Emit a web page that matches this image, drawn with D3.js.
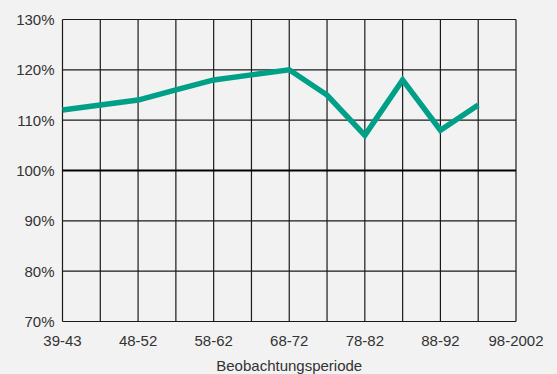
<!DOCTYPE html>
<html>
<head>
<meta charset="utf-8">
<script src="https://cdn.jsdelivr.net/npm/d3@7"></script>
<style>
  html, body { margin: 0; padding: 0; background: #f2f2f2; }
  text { font-family: "Liberation Sans", Arial, sans-serif; fill: #333; }
</style>
</head>
<body>
<div id="viz"></div>
<script>
const WIDTH = 557, HEIGHT = 374;

// 13 grid slots, labels on every other one
const slots = d3.range(13);
const tickLabels = ["39-43", "48-52", "58-62", "68-72", "78-82", "88-92", "98-2002"];
const values = [112, 113, 114, 116, 118, 119, 120, 115, 107, 118, 108, 113];
const yTicks = [70, 80, 90, 100, 110, 120, 130];

const margin = { top: 19.5, right: 41, bottom: 52.5, left: 62.5 };

const svg = d3.select("#viz").append("svg")
  .attr("width", WIDTH)
  .attr("height", HEIGHT);

svg.append("rect")
  .attr("width", WIDTH)
  .attr("height", HEIGHT)
  .attr("fill", "#f2f2f2");

const x = d3.scaleLinear()
  .domain([0, 12])
  .range([margin.left, WIDTH - margin.right]);

const y = d3.scaleLinear()
  .domain([70, 130])
  .range([HEIGHT - margin.bottom, margin.top]);

// vertical grid
svg.append("g")
  .selectAll("line")
  .data(slots)
  .join("line")
  .attr("x1", d => x(d)).attr("x2", d => x(d))
  .attr("y1", y(130)).attr("y2", y(70))
  .attr("stroke", "#1a1a1a")
  .attr("stroke-width", 1.2);

// horizontal grid
svg.append("g")
  .selectAll("line")
  .data(yTicks)
  .join("line")
  .attr("x1", x(0)).attr("x2", x(12))
  .attr("y1", d => y(d)).attr("y2", d => y(d))
  .attr("stroke", d => d === 100 ? "#000" : "#1a1a1a")
  .attr("stroke-width", d => d === 100 ? 2 : 1.2);

// y labels
svg.append("g")
  .selectAll("text")
  .data(yTicks)
  .join("text")
  .attr("x", x(0) - 8)
  .attr("y", d => y(d))
  .attr("dy", "0.36em")
  .attr("text-anchor", "end")
  .style("font-size", "15px")
  .text(d => d + "%");

// x labels
svg.append("g")
  .selectAll("text")
  .data(tickLabels)
  .join("text")
  .attr("x", (d, i) => x(i * 2))
  .attr("y", y(70) + 24.5)
  .attr("text-anchor", "middle")
  .style("font-size", "15px")
  .text(d => d);

svg.append("text")
  .attr("x", (x(0) + x(12)) / 2)
  .attr("y", y(70) + 49)
  .attr("text-anchor", "middle")
  .style("font-size", "15px")
  .text("Beobachtungsperiode");

const line = d3.line()
  .x((d, i) => x(i))
  .y(d => y(d));

svg.append("path")
  .datum(values)
  .attr("d", line)
  .attr("fill", "none")
  .attr("stroke", "#00a088")
  .attr("stroke-width", 5.5)
  .attr("stroke-linejoin", "miter");
</script>
</body>
</html>
